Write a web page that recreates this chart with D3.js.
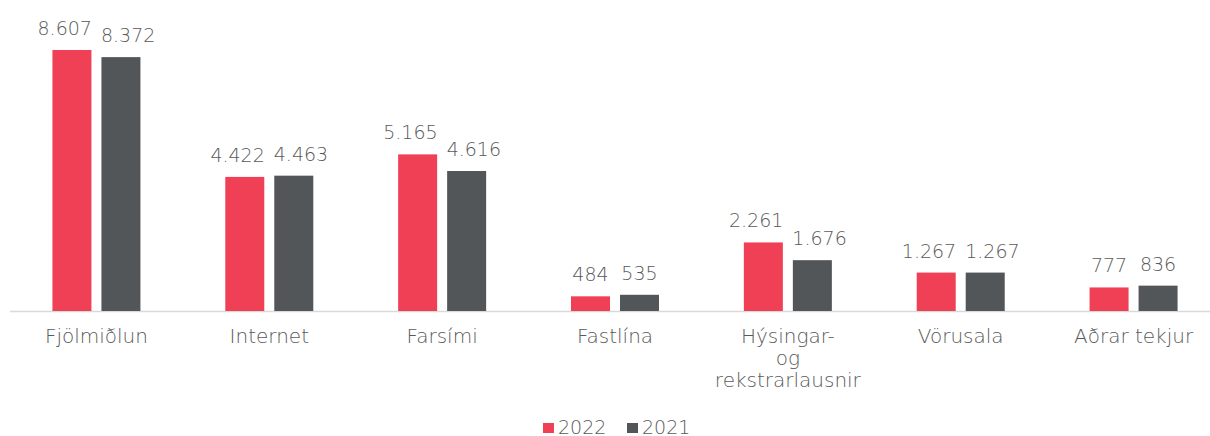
<!DOCTYPE html>
<html>
<head>
<meta charset="utf-8">
<script src="https://cdn.jsdelivr.net/npm/d3@7"></script>
<style>
  body { margin: 0; background: #fff; }
  text { font-family: "DejaVu Sans", sans-serif; font-weight: 200; fill: #595959; }
</style>
</head>
<body>
<svg id="chart" width="1210" height="436"></svg>
<script>
const categories = ["Fjölmiðlun", "Internet", "Farsími", "Fastlína", "Hýsingar-\nog\nrekstrarlausnir", "Vörusala", "Aðrar tekjur"]
const series = ["2022", "2021"]
const values2022 = [8607, 4422, 5165, 484, 2261, 1267, 777]
const values2021 = [8372, 4463, 4616, 535, 1676, 1267, 836]
const colors = ["#f04056", "#525659"]

const svg = d3.select("#chart")
const baseline = 311

const x = d3.scaleBand()
    .domain(categories)
    .range([10, 1220])

const y = d3.scaleLinear()
    .domain([0, 8607])
    .range([baseline, 50])

const inner = d3.scaleBand()
    .domain(series)
    .range([-44, 44])
    .paddingInner(10 / 49)

const fmt = v => d3.format(",")(v).replace(/,/g, ".")

// axis line
svg.append("line")
    .attr("x1", 10).attr("x2", 1210)
    .attr("y1", baseline + 0.5).attr("y2", baseline + 0.5)
    .attr("stroke", "#d9d9d9")
    .attr("stroke-width", 1.5)

const data = []
categories.forEach((c, i) => {
    data.push({cat: c, s: "2022", v: values2022[i]})
    data.push({cat: c, s: "2021", v: values2021[i]})
})

const center = c => x(c) + x.bandwidth() / 2

svg.selectAll(".bar")
    .data(data)
    .enter()
    .append("rect")
    .attr("class", "bar")
    .attr("x", d => center(d.cat) + inner(d.s))
    .attr("y", d => y(d.v))
    .attr("width", inner.bandwidth())
    .attr("height", d => baseline - y(d.v))
    .style("fill", (d, i) => colors[i % 2])

const labels = svg.selectAll(".val")
    .data(data)
    .enter()
    .append("text")
    .attr("class", "val")
    .attr("x", d => center(d.cat) + inner(d.s) + inner.bandwidth() / 2)
    .attr("y", d => y(d.v) - 15)
    .attr("text-anchor", "middle")
    .style("font-size", "19px")
    .text(d => fmt(d.v))

// push the two labels of a group apart when they would touch
const nodes = labels.nodes()
for (let i = 0; i < nodes.length; i += 2) {
    const a = nodes[i], b = nodes[i + 1]
    const wa = a.getComputedTextLength(), wb = b.getComputedTextLength()
    const xa = +a.getAttribute("x"), xb = +b.getAttribute("x")
    const ya = +a.getAttribute("y"), yb = +b.getAttribute("y")
    const need = (wa + wb) / 2 + 9
    if (xb - xa < need && Math.abs(ya - yb) < 20) {
        const shift = (need - (xb - xa)) / 2
        a.setAttribute("x", xa - shift)
        b.setAttribute("x", xb + shift)
    }
}

categories.forEach(c => {
    const t = svg.append("text")
        .attr("x", center(c))
        .attr("y", 343)
        .attr("text-anchor", "middle")
        .style("font-size", "20px")
    c.split("\n").forEach((line, j) => {
        t.append("tspan")
            .attr("x", center(c))
            .attr("dy", j === 0 ? 0 : 22)
            .text(line)
    })
})

// legend
const legend = svg.append("g").attr("transform", "translate(543,423)")
const lx = [0, 84]
series.forEach((s, i) => {
    legend.append("rect")
        .attr("x", lx[i]).attr("y", 0)
        .attr("width", 11).attr("height", 10)
        .style("fill", colors[i])
    legend.append("text")
        .attr("x", lx[i] + 15).attr("y", 10.5)
        .style("font-size", "19px")
        .text(s)
})
</script>
</body>
</html>
